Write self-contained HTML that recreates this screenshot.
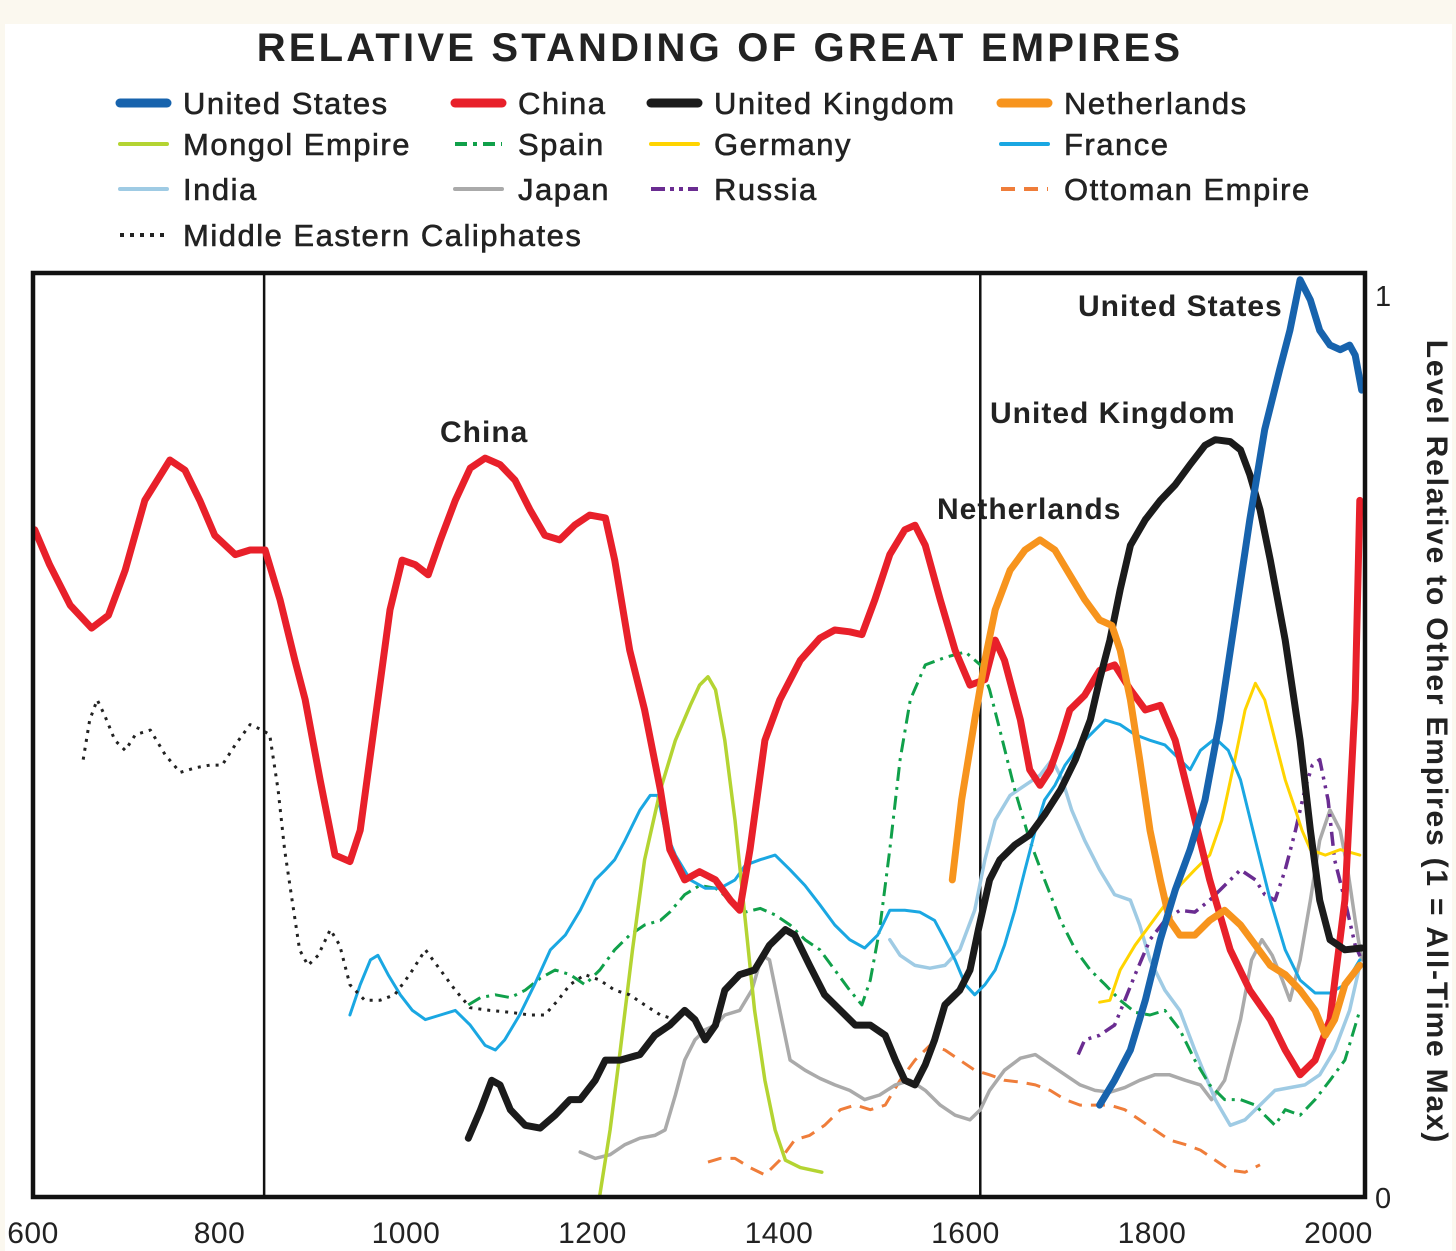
<!DOCTYPE html>
<html><head><meta charset="utf-8"><style>
html,body{margin:0;padding:0;background:#fff;}
svg{display:block;font-family:"Liberation Sans",sans-serif;}
</style></head><body>
<svg id="chart" width="1456" height="1251" viewBox="0 0 1456 1251" xmlns="http://www.w3.org/2000/svg">
<rect x="0" y="0" width="1456" height="1251" fill="#fff"/>
<rect x="0" y="0" width="1456" height="24" fill="#fbf8ef"/>
<rect x="1452" y="0" width="4" height="1251" fill="#fbf8ef"/>
<rect x="0" y="0" width="5" height="1251" fill="#fbf8ef"/>
<text x="720" y="61" text-anchor="middle" font-size="40" font-weight="bold" fill="#222" letter-spacing="3.2">RELATIVE STANDING OF GREAT EMPIRES</text>
<g id="legend"></g>
<g id="plot"></g>
</svg>
<script>
const NS="http://www.w3.org/2000/svg";
const xTicks=[600,800,1000,1200,1400,1600,1800,2000];
const dividerYears=[850,1618];
const chinaYears=[604,620,642,665,683,701,722,749,765,781,797,819,835,851,867,883,894,910,926,942,953,969,985,998,1012,1026,1039,1055,1071,1087,1103,1119,1135,1151,1167,1183,1199,1216,1226,1242,1258,1275,1285,1301,1317,1334,1350,1360,1371,1387,1403,1425,1446,1462,1478,1491,1505,1521,1537,1548,1559,1575,1591,1607,1623,1634,1644,1661,1671,1682,1693,1704,1714,1730,1746,1762,1779,1795,1811,1827,1843,1864,1886,1907,1929,1945,1961,1977,1993,2009,2020,2025];
const chinaVals=[.726,.688,.644,.619,.633,.682,.758,.802,.791,.758,.720,.699,.704,.704,.650,.584,.541,.454,.372,.365,.399,.519,.639,.693,.688,.677,.715,.758,.793,.804,.797,.780,.748,.720,.715,.731,.742,.739,.693,.595,.530,.443,.378,.345,.354,.345,.323,.312,.378,.497,.541,.584,.608,.617,.615,.612,.650,.699,.726,.731,.709,.650,.595,.557,.563,.606,.584,.519,.465,.448,.465,.497,.530,.546,.573,.579,.552,.530,.535,.497,.432,.345,.269,.225,.193,.160,.133,.149,.193,.323,.541,.758];
const usYears=[1746,1762,1779,1795,1811,1827,1843,1859,1875,1891,1907,1923,1939,1950,1961,1972,1982,1993,2004,2014,2020,2027];
const usVals=[.100,.127,.160,.214,.280,.334,.378,.432,.519,.628,.737,.835,.900,.943,.998,.976,.943,.927,.922,.927,.916,.878];
const ukYears=[1069,1082,1094,1103,1114,1130,1146,1162,1178,1189,1205,1216,1232,1253,1269,1285,1301,1312,1323,1334,1344,1360,1376,1392,1409,1419,1435,1451,1468,1484,1500,1516,1527,1537,1548,1559,1569,1580,1596,1607,1616,1628,1639,1655,1671,1687,1704,1720,1736,1746,1757,1768,1779,1795,1811,1827,1843,1859,1870,1886,1897,1907,1918,1929,1945,1961,1972,1982,1993,2009,2027];
const ukVals=[.064,.095,.127,.122,.095,.078,.075,.089,.106,.106,.127,.149,.149,.155,.176,.187,.203,.193,.171,.187,.225,.242,.247,.274,.291,.285,.252,.220,.203,.187,.187,.176,.149,.127,.122,.144,.171,.209,.225,.247,.291,.345,.367,.383,.394,.416,.443,.476,.519,.563,.606,.661,.709,.737,.758,.775,.797,.818,.824,.822,.813,.786,.748,.693,.606,.497,.399,.323,.280,.269,.271];
const nlYears=[1588,1598,1612,1623,1634,1650,1666,1682,1698,1714,1730,1746,1759,1768,1779,1789,1800,1811,1821,1832,1848,1864,1880,1897,1913,1929,1945,1961,1977,1988,1998,2009,2025];
const nlVals=[.345,.432,.519,.584,.639,.682,.704,.715,.704,.677,.650,.628,.622,.595,.541,.476,.399,.345,.301,.285,.285,.301,.312,.296,.274,.252,.242,.225,.203,.176,.193,.231,.252];
const mongolYears=[1210,1221,1232,1245,1258,1275,1291,1307,1317,1326,1334,1344,1355,1366,1376,1387,1398,1409,1425,1448];
const mongolVals=[.002,.073,.160,.269,.367,.443,.497,.535,.557,.566,.552,.497,.410,.301,.203,.127,.073,.040,.032,.027];
const spainYears=[1069,1082,1098,1114,1130,1146,1162,1178,1194,1210,1226,1242,1258,1275,1285,1301,1317,1334,1350,1366,1382,1398,1414,1430,1446,1462,1478,1491,1500,1510,1521,1532,1543,1559,1580,1602,1618,1628,1639,1655,1671,1687,1704,1720,1736,1752,1768,1784,1800,1816,1832,1848,1864,1880,1897,1913,1923,1934,1945,1961,1977,1993,2009,2025];
const spainVals=[.209,.217,.220,.217,.225,.238,.247,.242,.231,.247,.269,.285,.296,.301,.310,.329,.339,.336,.323,.310,.314,.307,.296,.280,.269,.247,.225,.209,.236,.291,.378,.476,.541,.579,.587,.593,.579,.552,.508,.443,.388,.345,.301,.269,.247,.231,.214,.201,.198,.203,.182,.149,.122,.106,.106,.100,.089,.078,.095,.089,.106,.127,.149,.203];
const germanyYears=[1746,1757,1768,1784,1800,1816,1832,1848,1864,1877,1891,1902,1913,1923,1934,1945,1956,1963,1972,1988,2004,2025];
const germanyVals=[.212,.214,.247,.274,.296,.318,.339,.356,.372,.410,.476,.530,.559,.541,.497,.454,.421,.399,.378,.372,.378,.372];
const franceYears=[942,953,964,972,983,996,1009,1023,1039,1055,1071,1087,1098,1108,1124,1140,1157,1173,1189,1205,1216,1226,1237,1253,1264,1272,1280,1291,1307,1323,1339,1355,1366,1382,1398,1414,1430,1446,1462,1478,1494,1508,1521,1537,1553,1569,1580,1591,1602,1612,1623,1634,1644,1655,1666,1677,1687,1698,1709,1725,1741,1752,1768,1784,1800,1816,1832,1843,1854,1870,1884,1897,1913,1929,1945,1961,1977,1993,2009,2025];
const franceVals=[.198,.231,.258,.263,.242,.220,.203,.193,.198,.203,.187,.165,.160,.171,.198,.231,.269,.285,.312,.345,.356,.367,.388,.421,.437,.437,.399,.372,.345,.336,.336,.345,.361,.367,.372,.356,.339,.318,.296,.280,.271,.285,.312,.312,.310,.301,.280,.258,.231,.220,.231,.247,.274,.312,.356,.399,.432,.448,.470,.492,.508,.519,.514,.503,.497,.492,.476,.465,.486,.499,.486,.454,.388,.323,.269,.236,.222,.222,.231,.258];
const indiaYears=[1521,1532,1548,1564,1580,1596,1612,1623,1634,1650,1666,1682,1695,1706,1716,1730,1746,1762,1779,1789,1800,1816,1832,1848,1859,1870,1886,1902,1918,1934,1950,1966,1982,1998,2014,2025];
const indiaVals=[.280,.263,.252,.249,.252,.269,.312,.367,.410,.437,.448,.459,.476,.454,.421,.388,.356,.329,.323,.296,.258,.225,.203,.160,.133,.106,.078,.084,.100,.116,.119,.122,.133,.160,.203,.252];
const japanYears=[1189,1205,1221,1237,1253,1269,1280,1291,1301,1312,1323,1334,1344,1360,1373,1384,1392,1403,1414,1430,1446,1462,1478,1494,1510,1527,1543,1559,1575,1591,1607,1618,1628,1644,1661,1677,1693,1709,1725,1741,1757,1773,1789,1805,1821,1838,1854,1866,1880,1897,1909,1920,1931,1942,1950,1961,1972,1982,1993,2004,2012,2020,2027];
const japanVals=[.049,.042,.046,.057,.064,.067,.073,.111,.149,.171,.182,.187,.198,.203,.225,.263,.258,.203,.149,.138,.129,.122,.116,.106,.111,.122,.127,.116,.100,.089,.084,.095,.116,.138,.151,.155,.144,.133,.122,.116,.114,.119,.127,.133,.133,.127,.122,.106,.127,.193,.258,.280,.263,.236,.214,.258,.323,.388,.421,.399,.356,.301,.258];
const russiaYears=[1723,1730,1746,1762,1773,1784,1800,1816,1832,1848,1864,1880,1897,1913,1923,1934,1945,1956,1966,1974,1982,1991,1998,2009,2020,2027];
const russiaVals=[.155,.171,.176,.187,.214,.242,.280,.301,.312,.310,.323,.339,.356,.345,.329,.323,.356,.399,.443,.470,.476,.432,.367,.323,.274,.258];
const ottomanYears=[1326,1339,1355,1371,1387,1403,1419,1435,1451,1468,1484,1500,1516,1532,1548,1564,1580,1596,1612,1628,1644,1661,1677,1693,1709,1725,1741,1757,1773,1789,1805,1821,1838,1854,1870,1886,1902,1918];
const ottomanVals=[.038,.042,.042,.032,.024,.040,.062,.067,.078,.095,.100,.095,.100,.127,.149,.165,.160,.149,.138,.133,.127,.125,.122,.116,.106,.100,.100,.100,.095,.084,.073,.062,.057,.051,.040,.029,.027,.035];
const calYears=[656,663,671,679,690,701,712,728,744,760,776,792,805,819,835,848,856,865,872,880,888,897,908,921,931,942,958,974,990,1006,1023,1039,1055,1071,1092,1114,1135,1151,1165,1178,1194,1210,1226,1242,1258,1275,1291];
const calVals=[.476,.519,.541,.524,.497,.486,.503,.508,.481,.462,.467,.470,.470,.492,.514,.508,.503,.443,.378,.323,.269,.252,.263,.291,.274,.231,.214,.214,.220,.242,.269,.247,.225,.206,.203,.201,.198,.198,.214,.231,.242,.236,.225,.220,.209,.198,.193];

const X=yr=>31+(yr-600)*0.9325;
const Y=v=>1197-v*919;
const plot=document.getElementById('plot');
const legend=document.getElementById('legend');
function mk(tag,attrs,parent){const e=document.createElementNS(NS,tag);for(const k in attrs)e.setAttribute(k,attrs[k]);parent.appendChild(e);return e;}

dividerYears.forEach(yr=>{
  const l=mk('line',{x1:X(yr),x2:X(yr),y1:273,y2:1197,stroke:'#111','stroke-width':2.5},plot);
  
  
});

const series=[
 {n:'ottoman-empire',y:ottomanYears,v:ottomanVals,c:'#ef7d3a',w:3,d:'14 9'},
 {n:'japan',y:japanYears,v:japanVals,c:'#aaaaaa',w:3.5,d:''},
 {n:'india',y:indiaYears,v:indiaVals,c:'#9fcbe4',w:3.5,d:''},
 {n:'russia',y:russiaYears,v:russiaVals,c:'#6a2c91',w:3.5,d:'14 6 3 6 3 6'},
 {n:'germany',y:germanyYears,v:germanyVals,c:'#ffd400',w:3,d:''},
 {n:'spain',y:spainYears,v:spainVals,c:'#10a04a',w:3,d:'14 6 3 6'},
 {n:'france',y:franceYears,v:franceVals,c:'#1aa7e2',w:3,d:''},
 {n:'mongol-empire',y:mongolYears,v:mongolVals,c:'#b4d432',w:3.5,d:''},
 {n:'middle-eastern-caliphates',y:calYears,v:calVals,c:'#222',w:3,d:'3 6'},
 {n:'china',y:chinaYears,v:chinaVals,c:'#e8202a',w:7,d:''},
 {n:'united-kingdom',y:ukYears,v:ukVals,c:'#1b1b1b',w:7,d:''},
 {n:'netherlands',y:nlYears,v:nlVals,c:'#f7941d',w:7,d:''},
 {n:'united-states',y:usYears,v:usVals,c:'#1763ad',w:7,d:''}
];
series.forEach(s=>{
  const pts=s.y.map((yr,i)=>X(yr).toFixed(1)+','+Y(s.v[i]).toFixed(1)).join(' ');
  const p=mk('polyline',{points:pts,fill:'none',stroke:s.c,'stroke-width':s.w,'stroke-linejoin':'round','stroke-linecap':s.d?'butt':'round'},plot);
  if(s.d)p.setAttribute('stroke-dasharray',s.d);
  
  
});

const fr=mk('rect',{x:33,y:273,width:1332,height:924,fill:'none',stroke:'#111','stroke-width':4.5},plot);



xTicks.forEach(t=>{
  const tx=mk('text',{x:X(t)+2,y:1243,'text-anchor':'middle','font-size':30,fill:'#222','letter-spacing':0.5},plot);
  tx.textContent=t;
  
  
});

const yLabels=[['1',306],['0',1208]];
yLabels.forEach(a=>{
  const t=mk('text',{x:1375,y:a[1],'font-size':29,fill:'#222'},plot);
  t.textContent=a[0];
  
  
});
const yt=mk('text',{x:0,y:0,'font-size':30,'font-weight':'bold',fill:'#222','text-anchor':'middle','letter-spacing':1.8,transform:'translate(1427,742) rotate(90)'},plot);
yt.textContent='Level Relative to Other Empires (1 = All-Time Max)';



const annos=[['China',440,442],['United States',1078,316],['United Kingdom',990,423],['Netherlands',937,519]];
annos.forEach(a=>{
  const t=mk('text',{x:a[1],y:a[2],'font-size':30,'font-weight':'bold',fill:'#222','letter-spacing':1},plot);
  t.textContent=a[0];
  
  
});

const legItems=[
 ['United States','#1763ad',9,'',117,103],['China','#e8202a',9,'',452,103],['United Kingdom','#1b1b1b',9,'',648,103],['Netherlands','#f7941d',9,'',998,103],
 ['Mongol Empire','#b4d432',4,'',117,144],['Spain','#10a04a',4,'12 6 4 6',452,144],['Germany','#ffd400',4,'',648,144],['France','#1aa7e2',4,'',998,144],
 ['India','#9fcbe4',4,'',117,189],['Japan','#aaaaaa',4,'',452,189],['Russia','#6a2c91',4,'14 5 4 5 4 5',648,189],['Ottoman Empire','#ef7d3a',4,'14 9',998,189],
 ['Middle Eastern Caliphates','#222',4,'4 6',117,235]
];
legItems.forEach(it=>{
  const g=mk('g',{},legend);
  
  
  const l=mk('line',{x1:it[4]+3,x2:it[4]+50,y1:it[5],y2:it[5],stroke:it[1],'stroke-width':it[2],'stroke-linecap':it[3]?'butt':'round'},g);
  if(it[3])l.setAttribute('stroke-dasharray',it[3]);
  const t=mk('text',{x:it[4]+66,y:it[5]+11,'font-size':31,fill:'#222','letter-spacing':1.5,stroke:'#222','stroke-width':0.6},g);
  t.textContent=it[0];
});
</script>
</body></html>
